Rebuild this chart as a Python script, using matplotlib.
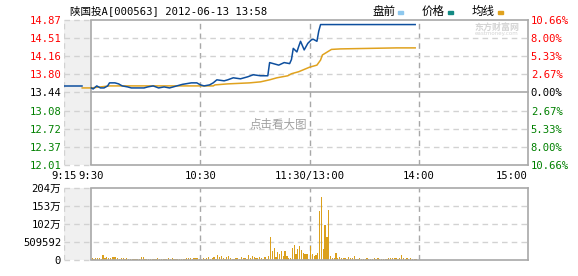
import matplotlib
matplotlib.use("Agg")
import matplotlib.pyplot as plt
import numpy as np

# ---------------- data ----------------
prev_close = 13.44
price_ticks = [12.01, 12.37, 12.72, 13.08, 13.44, 13.80, 14.16, 14.51, 14.87]
pct_labels = ["10.66%", "8.00%", "5.33%", "2.67%", "0.00%", "2.67%", "5.33%", "8.00%", "10.66%"]
time_ticks = [-15, 0, 60, 120, 180, 240]
time_labels = ["9:15", "9:30", "10:30", "11:30/13:00", "14:00", "15:00"]

# pre-market (minutes relative to 9:30)
pre_t = [-15, -5]
pre_p = [13.57, 13.57]

# price line (trading minutes since 9:30)
price_t = [0, 1, 3, 5, 7, 9, 10, 13, 15, 17, 20, 22, 29, 31, 34, 37, 40, 43, 47, 50, 55, 58,
           60, 62, 65, 67, 69, 73, 75, 78, 82, 86, 89, 93, 96, 97, 98, 100, 103, 106, 109, 110,
           111, 113, 114, 115, 117, 119, 121, 122, 124, 125, 126, 178]
price_p = [13.53, 13.51, 13.57, 13.53, 13.53, 13.57, 13.63, 13.63, 13.61, 13.57, 13.55, 13.53,
           13.53, 13.55, 13.57, 13.53, 13.55, 13.53, 13.57, 13.60, 13.63, 13.63, 13.59, 13.57,
           13.59, 13.63, 13.69, 13.67, 13.69, 13.73, 13.71, 13.75, 13.79, 13.77, 13.77, 13.77,
           14.03, 14.01, 13.98, 14.03, 14.01, 14.09, 14.31, 14.24, 14.35, 14.45, 14.28, 14.41,
           14.48, 14.49, 14.45, 14.65, 14.78, 14.78]

# average line
avg_t = [-5, 0, 10, 67, 68, 75, 87, 93, 98, 102, 108, 110, 114, 118, 120, 124, 126, 127, 132,
         137, 168, 178]
avg_p = [13.53, 13.53, 13.57, 13.57, 13.59, 13.61, 13.63, 13.65, 13.69, 13.73, 13.77, 13.81,
         13.85, 13.91, 13.94, 13.98, 14.08, 14.18, 14.29, 14.30, 14.32, 14.32]

# volume per minute (unit: 10k shares, 万股), minutes 0..178
vol_wan = [5.7, 2.8, 5.7, 5.7, 5.7, 2.8, 14.2, 5.7, 8.5, 5.7,
           5.7, 8.5, 8.5, 8.5, 5.7, 2.8, 5.7, 5.7, 2.8, 5.7,
           2.8, 2.8, 2.8, 2.8, 2.8, 2.8, 2.8, 8.5, 8.5, 2.8,
           2.8, 2.8, 2.8, 2.8, 2.8, 2.8, 5.7, 2.8, 2.8, 2.8,
           2.8, 2.8, 5.7, 2.8, 5.7, 2.8, 2.8, 2.8, 2.8, 2.8,
           2.8, 2.8, 5.7, 5.7, 5.7, 2.8, 5.7, 5.7, 5.7, 2.8,
           2.8, 5.7, 2.8, 5.7, 8.5, 2.8, 5.7, 8.5, 2.8, 14.2,
           8.5, 11.3, 5.7, 2.8, 8.5, 11.3, 5.7, 2.8, 2.8, 5.7,
           5.7, 2.8, 8.5, 5.7, 5.7, 2.8, 14.2, 5.7, 11.3, 8.5,
           5.7, 5.7, 8.5, 5.7, 2.8, 8.5, 2.8, 11.3, 65.2, 25.5,
           34.0, 8.5, 22.7, 17.0, 25.5, 11.3, 25.5, 11.3, 5.7, 5.7,
           34.0, 42.5, 17.0, 31.2, 39.7, 28.3, 19.8, 17.0, 17.0, 2.8,
           39.7, 17.0, 11.3, 14.2, 19.8, 138.8, 178.5, 31.2, 99.2, 65.2,
           141.7, 11.3, 5.7, 5.7, 19.8, 5.7, 8.5, 5.7, 5.7, 5.7,
           2.8, 8.5, 5.7, 5.7, 11.3, 2.8, 2.8, 5.7, 2.8, 2.8,
           2.8, 5.7, 2.8, 2.8, 2.8, 5.7, 2.8, 5.7, 2.8, 2.8,
           2.8, 2.8, 2.8, 5.7, 5.7, 5.7, 5.7, 5.7, 2.8, 5.7,
           14.2, 5.7, 2.8, 5.7, 2.8, 5.7, 2.8, 2.8, 2.8]
vol_ticks = [0, 509592, 1019184, 1528776, 2038368]
vol_labels = ["0", "509592", "102万", "153万", "204万"]

# ---------------- style ----------------
FONT = ["DejaVu Sans Mono", "Noto Sans CJK SC"]
CJK = ["Noto Sans CJK SC", "DejaVu Sans"]
plt.rcParams["font.family"] = FONT
PRICE_C = "#0e4f9e"
AVG_C = "#e0a21e"
VOL_C = "#dba01c"
GRID_C = "#d2d2d2"
VLINE_C = "#a8a8a8"
FRAME_C = "#a8a8a8"
SHADE_C = "#f0f0f0"
TFS = 7.6

W, H = 578, 276
fig = plt.figure(figsize=(W / 100, H / 100), dpi=100)


def fr(x0, y0, x1, y1):
    return [x0 / W, 1 - y1 / H, (x1 - x0) / W, (y1 - y0) / H]


ax = fig.add_axes(fr(64, 20, 528, 165))
axv = fig.add_axes(fr(64, 188, 528, 260))

for a in (ax, axv):
    a.set_xlim(-15, 240)
    a.axvspan(-15, 0, color=SHADE_C, zorder=0, lw=0)
    for s in ("left", "top", "bottom"):
        a.spines[s].set_visible(False)
    a.spines["right"].set_color(FRAME_C)
    a.spines["right"].set_linewidth(1.2)
    a.tick_params(length=0)
    for xv in (60, 120, 180):
        a.axvline(xv, color=VLINE_C, lw=1, ls=(0, (4, 3)), zorder=1)
    a.axvline(0, color=FRAME_C, lw=1.2, zorder=3)
    a.axvline(-15, color=GRID_C, lw=1, ls=(0, (4, 3)), zorder=1)

# ---- main price axes ----
ax.set_ylim(price_ticks[0], price_ticks[-1])
for v in price_ticks:
    if v in (price_ticks[0], price_ticks[-1], prev_close):
        ax.plot([-15, 0], [v, v], color=GRID_C, lw=1, ls=(0, (4, 3)), zorder=1, clip_on=False)
        ax.plot([0, 240], [v, v], color=FRAME_C, lw=1.2, zorder=3, clip_on=False)
    else:
        ax.plot([-15, 240], [v, v], color=GRID_C, lw=1, ls=(0, (4, 3)), zorder=1)

ax.plot(pre_t, pre_p, color=PRICE_C, lw=1.1, zorder=4)
ax.plot(avg_t, avg_p, color=AVG_C, lw=1.1, zorder=4)
ax.plot(price_t, price_p, color=PRICE_C, lw=1.1, zorder=5)

ax.set_yticks(price_ticks)
ax.set_yticklabels([f"{v:.2f}" for v in price_ticks], fontsize=TFS)
ax.tick_params(axis="y", pad=2)
for lab, v in zip(ax.get_yticklabels(), price_ticks):
    lab.set_color("red" if v > prev_close else ("black" if v == prev_close else "green"))

axr = ax.twinx()
axr.set_ylim(price_ticks[0], price_ticks[-1])
axr.set_yticks(price_ticks)
axr.set_yticklabels(pct_labels, fontsize=TFS)
axr.tick_params(length=0, pad=2)
for s in axr.spines.values():
    s.set_visible(False)
for lab, v in zip(axr.get_yticklabels(), price_ticks):
    lab.set_color("red" if v > prev_close else ("black" if v == prev_close else "green"))

ax.set_xticks(time_ticks)
ax.set_xticklabels(time_labels, fontsize=TFS)
ax.tick_params(axis="x", pad=4)
xl = ax.get_xticklabels()
xl[-1].set_horizontalalignment("right")

# ---- volume axes ----
axv.set_ylim(0, vol_ticks[-1])
for v in vol_ticks:
    if v in (vol_ticks[0], vol_ticks[-1]):
        axv.plot([-15, 0], [v, v], color=GRID_C, lw=1, ls=(0, (4, 3)), zorder=1, clip_on=False)
        axv.plot([0, 240], [v, v], color=FRAME_C, lw=1.2, zorder=3, clip_on=False)
    else:
        axv.plot([-15, 240], [v, v], color=GRID_C, lw=1, ls=(0, (4, 3)), zorder=1)
vol_t = np.arange(len(vol_wan)) + 0.5
axv.bar(vol_t, np.array(vol_wan) * 10000, width=0.7, color=VOL_C, lw=0, zorder=2)
axv.set_yticks(vol_ticks)
axv.set_yticklabels(vol_labels, fontsize=TFS)
axv.tick_params(axis="y", pad=2)
axv.set_xticks([])

# ---- title / legend / watermark ----
fig.text(70 / W, 1 - 11 / H, "陕国投A[000563] 2012-06-13 13:58", fontsize=TFS,
         va="center", ha="left", family=FONT)
leg = [("盘前", "#8ec8ee", 372), ("价格", "#138a84", 422), ("均线", "#e0a21e", 472)]
for txt, col, x0 in leg:
    fig.text(x0 / W, 1 - 11 / H, txt, fontsize=8.3, va="center", ha="left", family=CJK)
    fig.patches.append(plt.Rectangle(((x0 + 26) / W, 1 - 14 / H), 5 / W, 3 / H,
                                     transform=fig.transFigure, color=col, figure=fig))
fig.text(278 / W, 1 - 124 / H, "点击看大图", fontsize=8.3, color="#a0a0a0",
         va="center", ha="center", family=CJK, zorder=6)
fig.text(497 / W, 1 - 27 / H, "东方财富网", fontsize=6.5, color="#d4d4d4",
         va="center", ha="center", family=CJK, weight="bold")
fig.text(497 / W, 1 - 34 / H, "eastmoney.com", fontsize=4, color="#d4d4d4",
         va="center", ha="center", family="DejaVu Sans")

fig.savefig("out.png", dpi=100)
